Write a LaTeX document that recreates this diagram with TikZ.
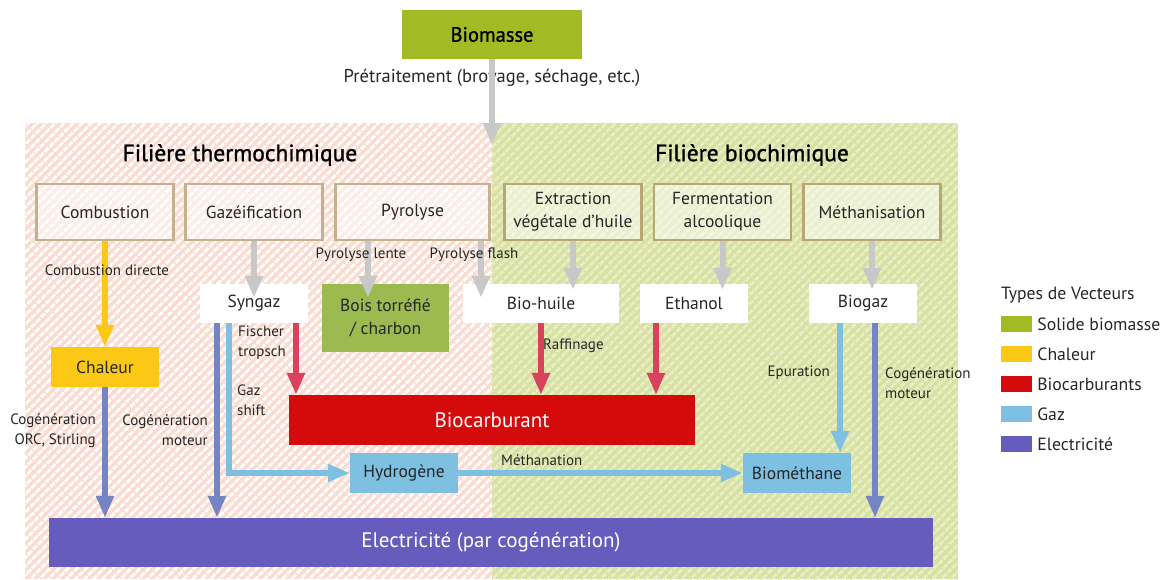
\documentclass[tikz,border=0pt]{standalone}
\usepackage{fontspec}
\setmainfont{PT Sans}
\newfontfamily\medfont{PT Sans}[FakeBold=1.2]
\usetikzlibrary{arrows.meta, patterns.meta, calc, positioning}

\definecolor{biogreen}{HTML}{A2BA23}
\definecolor{heat}{HTML}{FCC816}
\definecolor{fuel}{HTML}{D50B0B}
\definecolor{fuelarrow}{HTML}{DA415C}
\definecolor{gas}{HTML}{7DC0E2}
\definecolor{elec}{HTML}{665CBE}
\definecolor{elecarrow}{HTML}{7584C4}
\definecolor{bois}{HTML}{9BBB51}
\definecolor{grayarrow}{HTML}{C8C8C8}
\definecolor{pinkbase}{HTML}{FADCD1}
\definecolor{greenbase}{HTML}{D8E1A3}
\definecolor{greenstripe}{HTML}{E8EEC4}
\definecolor{procline}{HTML}{C6B18E}
\definecolor{txt}{HTML}{262626}

\tikzset{
  proc/.style={draw=procline, line width=2.5pt, fill=white, fill opacity=0.5,
    text opacity=1, minimum width=137pt, minimum height=56pt, inner sep=0pt,
    align=center, text=txt, font=\fontsize{17.5}{23}\selectfont},
  prod/.style={fill=white, minimum width=108pt, minimum height=39pt, inner sep=0pt,
    align=center, text=txt, font=\fontsize{17.5}{23}\selectfont},
  lab/.style={inner sep=0pt, text=txt, font=\fontsize{15}{20}\selectfont},
  vec/.style={line width=6pt, -{Triangle[width=17pt,length=22pt]}},
  swatch/.style={minimum width=31pt, minimum height=16pt, inner sep=0pt},
  legtxt/.style={inner sep=0pt, anchor=west, text=txt, font=\fontsize{17.7}{20}\selectfont},
  stripes/.style={pattern={Lines[angle=45,distance=6.4pt,line width=3pt]}}
}

\begin{document}
\begin{tikzpicture}[x=1pt, y=-1pt]
\useasboundingbox (0,0) rectangle (1170,579);

\fill[pinkbase] (25,123) rectangle (492,579);
\fill[stripes, pattern color=white] (25,123) rectangle (492,579);
\fill[greenbase] (492,123) rectangle (958,579);
\fill[stripes, pattern color=greenstripe] (492,123) rectangle (958,579);

\node[fill=biogreen, minimum width=180pt, minimum height=49pt, inner sep=0pt,
  font=\medfont\fontsize{20.5}{22}\selectfont] (biomasse) at (492,34.5) {Biomasse};
\node[lab, font=\fontsize{18.5}{20}\selectfont] (pretrait) at (492,78) {Prétraitement (broyage, séchage, etc.)};
\coordinate (entree) at (492,145);

\node[font=\medfont\fontsize{23.5}{26}\selectfont, text=black] (thermo) at (240,155) {Filière thermochimique};
\node[font=\medfont\fontsize{23.5}{26}\selectfont, text=black] (biochim) at (752,155) {Filière biochimique};

\node[proc] (combust) at (105,212) {Combustion};
\node[proc] (gazeif) at (254,212) {Gazéification};
\node[proc, minimum width=154pt] (pyro) at (412.5,212) {Pyrolyse};
\node[proc, draw=procline!80!olive] (extract) at (573,212) {Extraction\\végétale d’huile};
\node[proc, draw=procline!80!olive] (ferment) at (722.5,212) {Fermentation\\alcoolique};
\node[proc, draw=procline!80!olive] (methanis) at (872,212) {Méthanisation};

\node[prod] (syngaz) at (254,303.5) {Syngaz};
\node[prod, fill=bois, minimum width=127pt, minimum height=68pt] (boistorr) at (385.5,318) {Bois torréfié\\/ charbon};
\node[prod, minimum width=156pt] (biohuile) at (541,303.5) {Bio-huile};
\node[prod] (ethanol) at (694,303.5) {Ethanol};
\node[prod] (biogaz) at (863,303.5) {Biogaz};

\node[prod, fill=heat, minimum height=40pt] (chaleur) at (105,367) {Chaleur};
\node[prod, fill=fuel, text=white, minimum width=406pt, minimum height=50pt,
  font=\fontsize{21}{23}\selectfont] (biocarb) at (492,420) {Biocarburant};
\node[prod, fill=gas, minimum height=40pt] (hydrogene) at (404,473) {Hydrogène};
\node[prod, fill=gas, minimum height=40pt] (biomethane) at (797,473) {Biométhane};
\node[prod, fill=elec, text=white, minimum width=884pt, minimum height=49pt,
  font=\fontsize{21}{23}\selectfont] (electricite) at (491,542.5) {Electricité (par cogénération)};

\coordinate (xlente) at (368,0);
\coordinate (xflash) at (481,0);
\coordinate (xsynel) at (217,0);
\coordinate (xsynh) at (229,0);
\coordinate (xfisch) at (296,0);
\coordinate (xeth) at (656,0);
\coordinate (xepur) at (840,0);
\coordinate (xbgel) at (875,0);

\draw[vec, grayarrow] (biomasse.south) -- (entree);
\draw[vec, grayarrow] (gazeif.south) -- ([yshift=-14pt]syngaz.north);
\draw[vec, grayarrow] (pyro.south -| xlente) -- ([yshift=-14pt]boistorr.north -| xlente);
\draw[vec, grayarrow] (pyro.south -| xflash) -- ([yshift=-14pt]biohuile.north -| xflash);
\draw[vec, grayarrow] (extract.south) -- ([yshift=-6pt]biohuile.north -| extract.south);
\draw[vec, grayarrow] (ferment.south) -- ([yshift=-6pt]ethanol.north -| ferment.south);
\draw[vec, grayarrow] (methanis.south) -- ([yshift=-6pt]biogaz.north -| methanis.south);

\draw[vec, heat] (combust.south) -- (chaleur.north);
\draw[vec, elecarrow] (chaleur.south) -- (electricite.north -| chaleur.south);
\draw[vec, elecarrow] (syngaz.south -| xsynel) -- (electricite.north -| xsynel);
\draw[vec, fuelarrow] (syngaz.south -| xfisch) -- (biocarb.north -| xfisch);
\draw[vec, gas] (syngaz.south -| xsynh) |- (hydrogene.west);
\draw[vec, gas] (hydrogene.east) -- (biomethane.west);
\draw[vec, fuelarrow] (biohuile.south) -- (biocarb.north -| biohuile.south);
\draw[vec, fuelarrow] (ethanol.south -| xeth) -- (biocarb.north -| xeth);
\draw[vec, gas] (biogaz.south -| xepur) -- (biomethane.north -| xepur);
\draw[vec, elecarrow] (biogaz.south -| xbgel) -- (electricite.north -| xbgel);

\node[lab] (ldirecte) at (107,270) {Combustion directe};
\node[lab] (llente) at (361,255) {Pyrolyse lente};
\node[lab] (lflash) at (474,255) {Pyrolyse flash};
\node[lab, align=right, anchor=east] (lorc) at (96,431) {Cogénération\\ORC, Stirling};
\node[lab, align=right, anchor=east] (lmoteur) at (208,430) {Cogénération\\moteur};
\node[lab, align=left, anchor=west] (lfischer) at (238,343) {Fischer\\tropsch};
\node[lab, align=left, anchor=west] (lshift) at (237,400) {Gaz\\shift};
\node[lab, anchor=west] (lraffin) at (543,346) {Raffinage};
\node[lab, anchor=west] (lmethan) at (501,460) {Méthanation};
\node[lab, anchor=east] (lepur) at (830,373) {Epuration};
\node[lab, align=left, anchor=west] (lmoteurb) at (885,383) {Cogénération\\moteur};

\node[legtxt] (legtitre) at (1001,295) {Types de Vecteurs};
\node[swatch, fill=biogreen] (sw1) at (1016.5,324) {};
\node[swatch, fill=heat] (sw2) at (1016.5,354) {};
\node[swatch, fill=fuel] (sw3) at (1016.5,384) {};
\node[swatch, fill=gas] (sw4) at (1016.5,414) {};
\node[swatch, fill=elec] (sw5) at (1016.5,444) {};
\node[legtxt, right=5pt of sw1] {Solide biomasse};
\node[legtxt, right=5pt of sw2] {Chaleur};
\node[legtxt, right=5pt of sw3] {Biocarburants};
\node[legtxt, right=5pt of sw4] {Gaz};
\node[legtxt, right=5pt of sw5] {Electricité};
\end{tikzpicture}
\end{document}
